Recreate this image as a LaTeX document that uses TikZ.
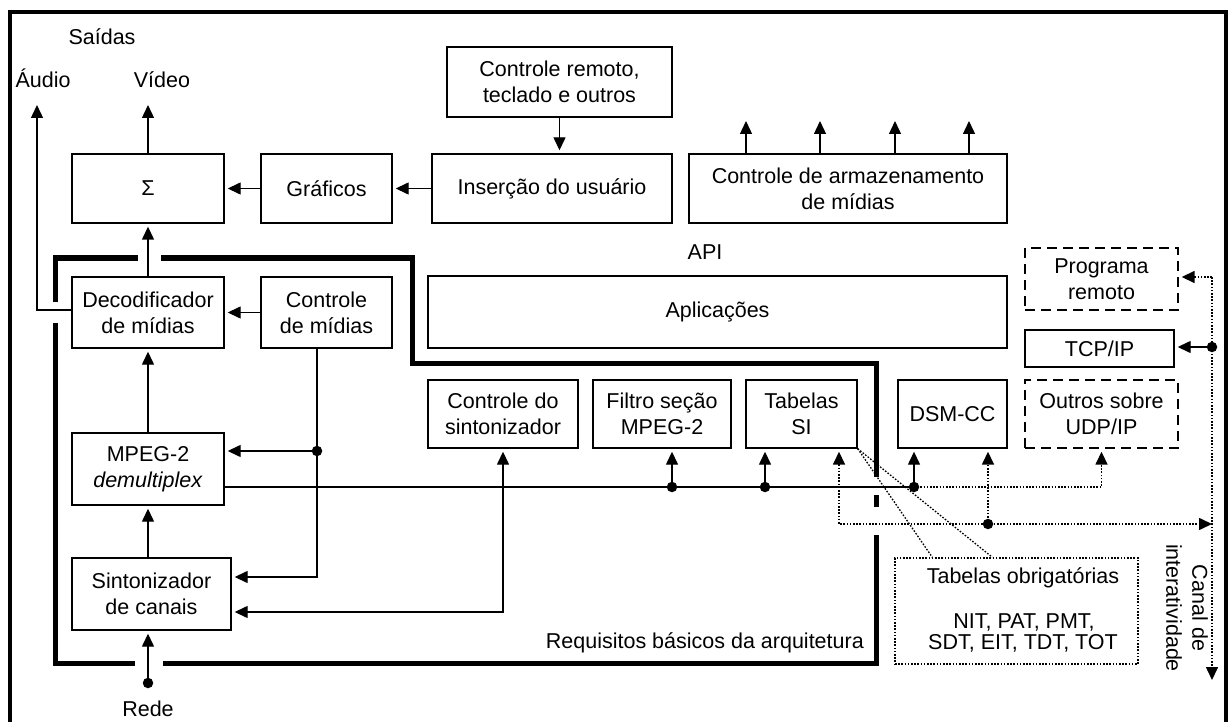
\documentclass[tikz,border=0pt]{standalone}
\usepackage{fontspec}
\setmainfont{Liberation Sans}
\usetikzlibrary{arrows.meta,calc}

\tikzset{
  lbl/.style={font=\fontsize{21.5}{26}\selectfont, inner sep=0pt, align=center},
  box/.style={lbl, draw, line width=1.4pt, rectangle},
  dbox/.style={box, dash pattern=on 10pt off 6pt},
  obox/.style={box, line width=1.5pt, dash pattern=on 1.6pt off 1.6pt},
  wire/.style={line width=1.4pt},
  tip/.tip={Triangle[length=13pt,width=12pt]},
  arr/.style={wire, -tip, shorten >=3pt},
  dotline/.style={line width=1.6pt, dash pattern=on 1.6pt off 1.6pt},
  darr/.style={dotline, -tip, shorten >=3pt},
  jdot/.style={circle, fill, inner sep=0pt, minimum size=10.5pt},
  region/.style={line width=5pt},
}

\begin{document}
\begin{tikzpicture}[x=1pt,y=-1pt]
\useasboundingbox (0,0) rectangle (1229,722);
\fill[white] (0,0) rectangle (1229,722);

% outer frame
\draw[line width=4.5pt] (10,730) -- (10,12) -- (1226,12) -- (1226,730);

% free labels
\node[lbl, anchor=base] (saidas) at (102,45) {Saídas};
\node[lbl, anchor=base] (audio) at (43,88) {Áudio};
\node[lbl, anchor=base] (video) at (162,88) {Vídeo};
\node[lbl] (api) at (705,252) {API};
\node[lbl, anchor=base east] (req) at (864,648) {Requisitos básicos da arquitetura};
\node[lbl, anchor=base] (rede) at (148,716) {Rede};
\node[lbl, rotate=-90] (canal) at (1187,608) {Canal de\\interatividade};

% blocks
\node[box, minimum width=152pt, minimum height=69pt] (sum) at (148,188.5) {Σ};
\node[box, minimum width=131pt, minimum height=69pt] (graf) at (326.5,188.5) {Gráficos};
\node[box, minimum width=240pt, minimum height=69pt] (ins) at (552,188.5) {Inserção do usuário};
\node[box, minimum width=225pt, minimum height=70pt] (rc) at (559.5,82) {Controle remoto,\\teclado e outros};
\node[box, minimum width=318pt, minimum height=69pt] (stor) at (848,188.5) {Controle de armazenamento\\de mídias};
\node[box, minimum width=579pt, minimum height=72pt] (apps) at (717.5,312) {Aplicações};
\node[box, minimum width=152pt, minimum height=71pt] (dec) at (148,312.5) {Decodificador\\de mídias};
\node[box, minimum width=131pt, minimum height=71pt] (cmid) at (326.5,312.5) {Controle\\de mídias};
\node[box, minimum width=152pt, minimum height=72pt] (demux) at (148,469) {MPEG-2\\\textit{demultiplex}};
\node[box, minimum width=159pt, minimum height=72pt] (tuner) at (151.5,594) {Sintonizador\\de canais};
\node[box, minimum width=150pt, minimum height=68pt] (ctun) at (503,414) {Controle do\\sintonizador};
\node[box, minimum width=138pt, minimum height=68pt] (filt) at (662,414) {Filtro seção\\MPEG-2};
\node[box, minimum width=111pt, minimum height=68pt] (si) at (801.5,414) {Tabelas\\SI};
\node[box, minimum width=109pt, minimum height=68pt] (dsm) at (952.5,414) {DSM-CC};
\node[dbox, minimum width=153pt, minimum height=68pt] (udp) at (1101.5,414) {Outros sobre\\UDP/IP};
\node[dbox, minimum width=153pt, minimum height=62pt] (prog) at (1101.5,279) {Programa\\remoto};
\node[box, minimum width=149pt, minimum height=37pt] (tcp) at (1099.5,348.5) {TCP/IP};
\node[obox, minimum width=243pt, minimum height=106pt] (tab) at (1016.5,611) {};
\node[lbl, anchor=base] (tabt) at (1023,583) {Tabelas obrigatórias};
\node[lbl, anchor=base] (tabl1) at (1024,628) {NIT, PAT, PMT,};
\node[lbl, anchor=base] (tabl2) at (1023,649) {SDT, EIT, TDT, TOT};

% basic-requirements region
\draw[region] (55,302) -- (55,258) -- (138,258);
\draw[region] (161,258) -- (412,258) -- (412,363) -- (876,363) -- (876,477);
\draw[region] (876,495) -- (876,507);
\draw[region] (876,535) -- (876,663) -- (163,663);
\draw[region] (135,663) -- (55,663) -- (55,323);

% outputs
\coordinate (vtip) at (148,105);
\coordinate (atip) at (37,105);
\coordinate (acorner) at (37,310);
\draw[arr, shorten >=0pt] (sum.north) -- (vtip);
\draw[arr, shorten >=0pt] (dec.west |- acorner) -- (acorner) -- (atip);

% user input and graphics chain
\draw[arr] (rc.south) -- (rc.south |- ins.north);
\draw[arr] (ins) -- (graf);
\draw[arr] (graf) -- (sum);

% storage control outputs
\foreach \sx [count=\i] in {746,820,895,969}{
  \coordinate (so\i) at (\sx,154);
  \coordinate (st\i) at (\sx,121);
  \draw[arr, shorten >=0pt] (so\i) -- (st\i);
}

% decoding chain
\draw[arr] (dec) -- (sum);
\draw[arr] (cmid) -- (dec);
\draw[arr] (demux) -- (dec);
\draw[arr] (tuner.north -| demux.south) -- (demux.south);

% network input
\coordinate (rd) at (148,683);
\draw[arr] (rd) -- (rd |- tuner.south);
\node[jdot] (drd) at (rd) {};

% media control bus
\coordinate (m1) at (317,451);
\coordinate (m2) at (317,577);
\draw[arr] (cmid.south -| m1) -- (m2) -- (m2 -| tuner.east);
\draw[arr] (m1) -- (m1 -| demux.east);
\node[jdot] (dm1) at (m1) {};

% tuner control
\coordinate (t1) at (503,612);
\draw[wire, tip-tip, shorten <=3pt, shorten >=3pt] (ctun.south) -- (t1) -- (t1 -| tuner.east);

% transport stream bus
\coordinate (bf) at (672,487);
\coordinate (bs) at (765,487);
\coordinate (bd) at (914,487);
\coordinate (bu) at (udp.south |- bd);
\draw[wire] (demux.east |- bd) -- (bd);
\draw[arr] (bf) -- (bf |- filt.south);
\draw[arr] (bs) -- (bs |- si.south);
\draw[arr] (bd) -- (bd |- dsm.south);
\draw[darr] (bd) -- (bu) -- (udp.south);
\node[jdot] (dbf) at (bf) {};
\node[jdot] (dbs) at (bs) {};
\node[jdot] (dbd) at (bd) {};

% interactivity channel
\coordinate (cp) at (1212,277);
\coordinate (ct) at (1212,347);
\coordinate (cb) at (1212,680);
\coordinate (ie) at (1212,524);
\coordinate (is) at (839,524);
\coordinate (idsm) at (988,524);
\draw[darr, shorten >=0pt] (cp) -- (cb);
\draw[darr] (cp) -- (cp -| prog.east);
\draw[arr] (ct) -- (ct -| tcp.east);
\draw[dotline, tip-tip, shorten <=3pt] (is |- si.south) -- (is) -- (ie);
\draw[darr] (idsm) -- (idsm |- dsm.south);
\node[jdot] (dct) at (ct) {};
\node[jdot] (didsm) at (idsm) {};

% callout to mandatory tables
\coordinate (k1) at ($(tab.north west)+(38,0)$);
\coordinate (k2) at ($(tab.north west)+(98,0)$);
\draw[dotline, line width=1.3pt] (si.south east) -- (k1);
\draw[dotline, line width=1.3pt] (si.south east) -- (k2);
\end{tikzpicture}
\end{document}
